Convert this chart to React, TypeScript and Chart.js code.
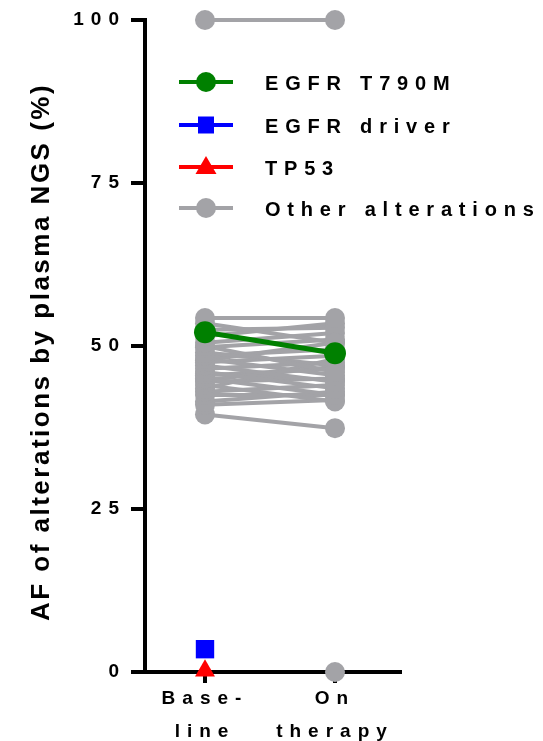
import React, { useEffect, useRef } from 'react';
import { Chart, registerables } from 'chart.js';

Chart.register(...registerables);

// ---- data ----
const categoryLabels: string[][] = [['Base-', 'line'], ['On', 'therapy']];
const yTickValues = [0, 25, 50, 75, 100];
const yTitle = 'AF of alterations by plasma NGS (%)';
const legendLabels = ['EGFR T790M', 'EGFR driver', 'TP53', 'Other alterations'];

// Other alterations: paired baseline -> on therapy
const otherBaseline = [100, 54.3, 53.5, 52.5, 51.5, 50.5, 50, 49.8, 49, 48.5, 48, 47.8, 47.5, 47, 46.5, 46, 45.8, 45.5, 45, 44.8, 44.5, 44, 43.5, 43, 42.5, 41.5, 41, 39.5];
const otherTherapy = [100, 54.3, 50.5, 52.8, 53.5, 52, 46, 51, 47, 49.5, 45.5, 50.5, 48.5, 44.5, 47.5, 43.5, 44.8, 46.5, 42.5, 46.8, 45, 41.5, 48, 44, 42.5, 43, 41.7, 37.4];
// Other alteration only detected on therapy side at 0
const otherTherapyOnly = [0];
const t790m = [52.1, 48.9];
const egfrDriverBaseline = [3.5];
const tp53Baseline = [0.2];

const GREY = '#A3A3A7';
const GREEN = '#008000';
const BLUE = '#0000FF';
const RED = '#FF0000';
const FONT = '"Liberation Sans", Arial, sans-serif';

export default function App() {
  const ref = useRef<HTMLCanvasElement | null>(null);

  useEffect(() => {
    document.body.style.margin = '0';
    const canvas = ref.current;
    if (!canvas) return;

    const datasets: any[] = [];
    // first datasets are drawn on top
    datasets.push({
      type: 'line',
      data: tp53Baseline.map((v) => ({ x: 0, y: v })),
      borderColor: RED,
      backgroundColor: RED,
      pointStyle: 'triangle',
      pointRadius: 11.5,
      pointBorderWidth: 0,
      clip: false,
    });
    datasets.push({
      type: 'line',
      data: egfrDriverBaseline.map((v) => ({ x: 0, y: v })),
      borderColor: BLUE,
      backgroundColor: BLUE,
      pointStyle: 'rect',
      pointRadius: 13,
      pointBorderWidth: 0,
      clip: false,
    });
    datasets.push({
      type: 'line',
      data: [{ x: 0, y: t790m[0] }, { x: 1, y: t790m[1] }],
      borderColor: GREEN,
      backgroundColor: GREEN,
      borderWidth: 5,
      pointRadius: 11,
      pointBorderWidth: 0,
      clip: false,
    });
    otherBaseline.forEach((b, i) => {
      datasets.push({
        type: 'line',
        data: [{ x: 0, y: b }, { x: 1, y: otherTherapy[i] }],
        borderColor: GREY,
        backgroundColor: GREY,
        borderWidth: 4,
        pointRadius: 10,
        pointBorderWidth: 0,
        pointStyle: 'circle',
        clip: false,
      });
    });
    otherTherapyOnly.forEach((v) => {
      datasets.push({
        type: 'line',
        data: [{ x: 1, y: v }],
        borderColor: GREY,
        backgroundColor: GREY,
        borderWidth: 4,
        pointRadius: 10,
        pointBorderWidth: 0,
        clip: false,
      });
    });

    const drawPlugin = {
      id: 'customDraw',
      beforeDraw(chart: any) {
        (chart.ctx as any).letterSpacing = '7px';
      },
      afterDraw(chart: any) {
        const ctx = chart.ctx as any;
        const area = chart.chartArea;
        // y axis title
        ctx.save();
        ctx.letterSpacing = '2.5px';
        ctx.fillStyle = '#000';
        ctx.font = `bold 26px ${FONT}`;
        ctx.textAlign = 'center';
        ctx.textBaseline = 'middle';
        ctx.translate(42, (area.top + area.bottom) / 2 + 6);
        ctx.rotate(-Math.PI / 2);
        ctx.fillText(yTitle, 0, 0);
        ctx.restore();

        // legend
        const colors = [GREEN, BLUE, RED, GREY];
        const styles = ['circle', 'rect', 'triangle', 'circle'];
        const rowsY = [82, 125, 167, 208];
        ctx.save();
        legendLabels.forEach((label, i) => {
          const y = rowsY[i];
          ctx.strokeStyle = colors[i];
          ctx.fillStyle = colors[i];
          ctx.lineWidth = 4;
          ctx.beginPath();
          ctx.moveTo(179, y);
          ctx.lineTo(233, y);
          ctx.stroke();
          const cx = 206;
          ctx.beginPath();
          if (styles[i] === 'circle') {
            ctx.arc(cx, y, 10, 0, Math.PI * 2);
          } else if (styles[i] === 'rect') {
            ctx.rect(cx - 8, y - 8.5, 16, 17);
          } else {
            ctx.moveTo(cx, y - 11);
            ctx.lineTo(cx + 10.5, y + 7);
            ctx.lineTo(cx - 10.5, y + 7);
            ctx.closePath();
          }
          ctx.fill();
          ctx.letterSpacing = '6.8px';
          ctx.fillStyle = '#000';
          ctx.font = `bold 20px ${FONT}`;
          ctx.textAlign = 'left';
          ctx.textBaseline = 'middle';
          ctx.fillText(label, 265, y + 2);
        });
        ctx.restore();
      },
    };

    const chart = new Chart(canvas, {
      type: 'line',
      data: { datasets },
      options: {
        animation: false,
        responsive: false,
        devicePixelRatio: 1,
        layout: { padding: { top: 20, right: 143, left: 0, bottom: 0 } },
        plugins: { legend: { display: false }, tooltip: { enabled: false }, title: { display: false } },
        scales: {
          x: {
            type: 'linear',
            min: -0.4615,
            max: 1.5,
            afterBuildTicks: (scale: any) => {
              scale.ticks = categoryLabels.map((_, i) => ({ value: i }));
            },
            afterFit: (scale: any) => {
              scale.height = 69;
            },
            ticks: {
              color: '#000',
              font: { family: FONT, size: 19, weight: 'bold', lineHeight: 1.7 },
              padding: 0,
              maxRotation: 0,
              autoSkip: false,
              callback: (v: any) => categoryLabels[Math.round(Number(v))] ?? '',
            },
            grid: { drawOnChartArea: false, drawTicks: true, tickLength: 11, color: '#000', lineWidth: 4 },
            border: { display: true, color: '#000', width: 4 },
          },
          y: {
            type: 'linear',
            min: 0,
            max: 100,
            afterBuildTicks: (scale: any) => {
              scale.ticks = yTickValues.map((v) => ({ value: v }));
            },
            afterFit: (scale: any) => {
              scale.width = 145;
            },
            ticks: {
              color: '#000',
              font: { family: FONT, size: 19, weight: 'bold' },
              padding: 5,
              callback: (v: any) => String(v),
            },
            grid: { drawOnChartArea: false, drawTicks: true, tickLength: 14, color: '#000', lineWidth: 4 },
            border: { display: true, color: '#000', width: 4 },
          },
        },
      },
      plugins: [drawPlugin],
    } as any);

    return () => {
      chart.destroy();
    };
  }, []);

  return (
    <div style={{ width: 543, height: 741, position: 'relative' }}>
      <canvas ref={ref} width={543} height={741} style={{ width: 543, height: 741, display: 'block' }} />
    </div>
  );
}
